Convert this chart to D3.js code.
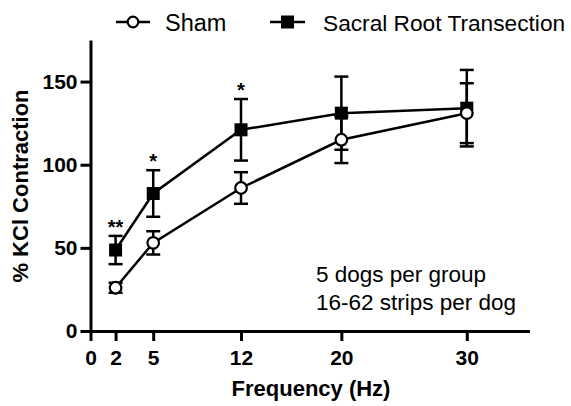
<!DOCTYPE html>
<html>
<head>
<meta charset="utf-8">
<script src="https://cdn.jsdelivr.net/npm/d3@7"></script>
<style>
  body { margin: 0; background: #fff; }
  svg { display: block; font-family: "Liberation Sans", Arial, Helvetica, sans-serif; }
</style>
</head>
<body>
<svg id="chart" width="571" height="406"></svg>
<script>
// ---- data ----
const frequencies = [2, 5, 12, 20, 30];
const shamMean = [26, 53, 86, 115, 131];
const shamErr  = [3, 7, 9.5, 14, 18];
const srtMean  = [48.7, 82.7, 121, 131, 134];
const srtErr   = [8.5, 14, 18.5, 22, 23];
const significance = ["**", "*", "*", "", ""];
const xTicks = [0, 2, 5, 12, 20, 30];
const yTicks = [0, 50, 100, 150];
const seriesNames = ["Sham", "Sacral Root Transection"];
const noteLines = ["5 dogs per group", "16-62 strips per dog"];

// ---- layout ----
const svg = d3.select("#chart");
const x = d3.scaleLinear().domain([0, 35]).range([90.5, 529.5]);
const y = d3.scaleLinear().domain([0, 175]).range([331, 40]);

// axes
const xAxis = svg.append("g")
  .attr("transform", `translate(0,${y(0)})`)
  .call(d3.axisBottom(x).tickValues(xTicks).tickSize(10).tickSizeOuter(0).tickPadding(9).tickFormat(d3.format("d")));
const yAxis = svg.append("g")
  .attr("transform", `translate(${x(0)},0)`)
  .call(d3.axisLeft(y).tickValues(yTicks).tickSize(10).tickSizeOuter(0).tickPadding(3).tickFormat(d3.format("d")));

[xAxis, yAxis].forEach(g => {
  g.select(".domain").attr("stroke", "#000").attr("stroke-width", 3);
  g.selectAll(".tick line").attr("stroke", "#000").attr("stroke-width", 3);
  g.selectAll(".tick text").attr("fill", "#000")
    .style("font-size", "21px").style("font-weight", "bold")
    .style("font-family", "'Liberation Sans', Arial, Helvetica, sans-serif");
});

// axis titles
svg.append("text")
  .attr("x", 311).attr("y", 396)
  .attr("text-anchor", "middle")
  .style("font-size", "22px").style("font-weight", "bold")
  .text("Frequency (Hz)");
svg.append("text")
  .attr("transform", "translate(28,186) rotate(-90)")
  .attr("text-anchor", "middle")
  .style("font-size", "22px").style("font-weight", "bold")
  .text("% KCl Contraction");

// series
const mk = (means, errs) => frequencies.map((f, i) => ({ f, m: means[i], e: errs[i], s: significance[i] }));
const sham = mk(shamMean, shamErr);
const srt = mk(srtMean, srtErr);

const line = d3.line().x(d => x(d.f)).y(d => y(d.m));
const capW = 7;

function drawSeries(data, marker) {
  const g = svg.append("g");
  // error bars
  const eb = g.selectAll(".eb").data(data).enter().append("g");
  eb.append("line")
    .attr("x1", d => x(d.f)).attr("x2", d => x(d.f))
    .attr("y1", d => y(d.m - d.e)).attr("y2", d => y(d.m + d.e))
    .attr("stroke", "#000").attr("stroke-width", 2.5);
  eb.append("line")
    .attr("x1", d => x(d.f) - capW).attr("x2", d => x(d.f) + capW)
    .attr("y1", d => y(d.m + d.e)).attr("y2", d => y(d.m + d.e))
    .attr("stroke", "#000").attr("stroke-width", 2.5);
  eb.append("line")
    .attr("x1", d => x(d.f) - capW).attr("x2", d => x(d.f) + capW)
    .attr("y1", d => y(d.m - d.e)).attr("y2", d => y(d.m - d.e))
    .attr("stroke", "#000").attr("stroke-width", 2.5);
  // line
  g.append("path").datum(data).attr("d", line)
    .attr("fill", "none").attr("stroke", "#000").attr("stroke-width", 2.5);
  // markers
  if (marker === "square") {
    g.selectAll(".pt").data(data).enter().append("rect")
      .attr("x", d => x(d.f) - 6.5).attr("y", d => y(d.m) - 6.5)
      .attr("width", 13).attr("height", 13).attr("fill", "#000");
  } else {
    g.selectAll(".pt").data(data).enter().append("circle")
      .attr("cx", d => x(d.f)).attr("cy", d => y(d.m)).attr("r", 5.8)
      .attr("fill", "#fff").attr("stroke", "#000").attr("stroke-width", 2.2);
  }
}
drawSeries(srt, "square");
drawSeries(sham, "circle");

// significance stars
svg.selectAll(".star").data(srt.filter(d => d.s)).enter().append("text")
  .attr("x", d => x(d.f)).attr("y", d => y(d.m + d.e) - 2)
  .attr("text-anchor", "middle")
  .style("font-size", "20px").style("font-weight", "bold")
  .text(d => d.s);

// note
svg.selectAll(".note").data(noteLines).enter().append("text")
  .attr("x", 316).attr("y", (d, i) => 282 + i * 28)
  .style("font-size", "22.5px")
  .text(d => d);

// legend
const lg = svg.append("g");
lg.append("line").attr("x1", 116).attr("x2", 150).attr("y1", 22).attr("y2", 22)
  .attr("stroke", "#000").attr("stroke-width", 2.5);
lg.append("circle").attr("cx", 133).attr("cy", 22).attr("r", 5.3)
  .attr("fill", "#fff").attr("stroke", "#000").attr("stroke-width", 2.2);
lg.append("text").attr("x", 165).attr("y", 31).style("font-size", "23.5px").text(seriesNames[0]);
lg.append("line").attr("x1", 270).attr("x2", 305).attr("y1", 22).attr("y2", 22)
  .attr("stroke", "#000").attr("stroke-width", 2.5);
lg.append("rect").attr("x", 281).attr("y", 15.5).attr("width", 13).attr("height", 13).attr("fill", "#000");
lg.append("text").attr("x", 323).attr("y", 31).style("font-size", "22.7px").text(seriesNames[1]);
</script>
</body>
</html>
